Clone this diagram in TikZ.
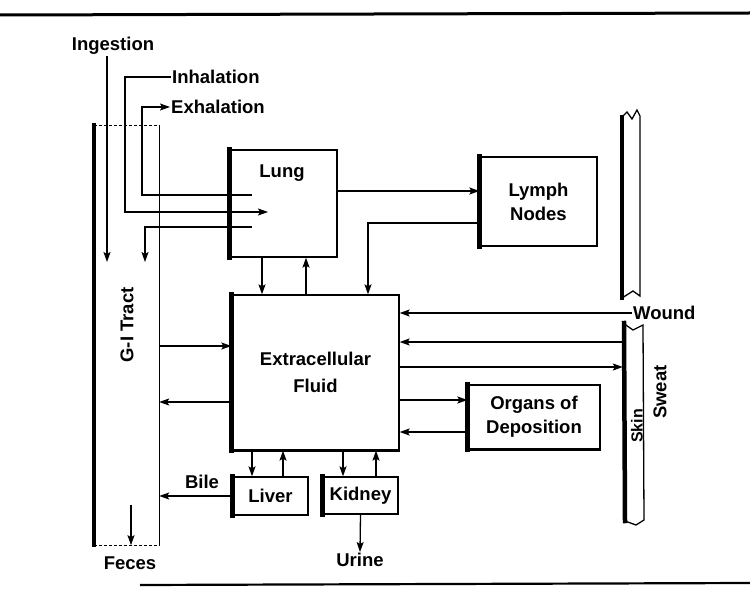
\documentclass[tikz,border=0pt]{standalone}
\usepackage{fontspec}
\setmainfont{Liberation Sans}
\usepackage{tikz}
\usetikzlibrary{arrows.meta, positioning, calc}

\tikzset{
  box/.style={draw, line width=1.3pt, inner sep=0pt, align=center},
  flow/.style={line width=1.3pt, -{Stealth[length=10pt,width=7pt,inset=2pt]}},
  wire/.style={line width=1.3pt},
  shadowedge/.style={line width=4.5pt, line cap=rect},
  lbl/.style={inner sep=1pt},
}

\begin{document}
\begin{tikzpicture}[x=1pt, y=-1pt, font=\fontsize{18.5}{24}\selectfont\bfseries]
  \useasboundingbox (0,0) rectangle (750,596);
  % page rules
  \draw[line width=3pt] (0,15) -- (750,13);
  \draw[line width=2.2pt] (140,585) -- (750,583);

  % compartments
  \node[box, minimum width=107pt, minimum height=107pt] (lung) at (283.5,203.5) {};
  \node[lbl] (lungtxt) at (282,173) {Lung};
  \node[box, minimum width=117pt, minimum height=89pt] (lymph) at (538.5,201.5) {Lymph\\Nodes};
  \node[box, minimum width=167pt, minimum height=155pt,
        font=\fontsize{18.5}{27}\selectfont\bfseries] (ecf) at (315.5,372.5) {Extracellular\\Fluid};
  \node[box, minimum width=75pt, minimum height=38pt] (liver) at (270.5,496) {Liver};
  \node[box, minimum width=75pt, minimum height=37pt] (kidney) at (360.5,495.5) {Kidney};
  \node[box, minimum width=132pt, minimum height=64pt] (organs) at (534,417) {Organs of\\Deposition};
  \foreach \n in {lung,lymph,ecf,liver,kidney,organs}
    \draw[shadowedge] (\n.north west) -- (\n.south west);
  \draw[line width=2.5pt] (ecf.south west) -- (ecf.south east);
  \draw[line width=2.5pt] (organs.south west) -- (organs.south east);

  % G-I tract
  \node[minimum width=65pt, minimum height=420pt, inner sep=0pt] (gi) at (126.5,335) {};
  \draw[shadowedge] (gi.north west) -- (gi.south west);
  \draw[wire] (gi.north east) -- (gi.south east);
  \draw[densely dashed, thin] (gi.north west) -- (gi.north east);
  \draw[densely dashed, thin] (gi.south west) -- (gi.south east);
  \node[lbl, rotate=90] (gitxt) at (127,325) {G-I Tract};

  % skin, cut open at the wound
  \node[minimum width=18pt, minimum height=184pt, inner sep=0pt] (skinup) at (631,205) {};
  \node[minimum width=21pt, minimum height=198pt, inner sep=0pt] (skinlow) at (633.5,424) {};
  \draw[wire, line join=miter] (622,117) -- (627,112) -- (632,119) -- (637,110) -- (640,116)
    -- (640,296) -- (633,291) -- (622,298);
  \draw[shadowedge] (622,117) -- (622,298);
  \draw[wire, line join=miter] (623,323) -- (633,330) -- (643,325) -- (644,520)
    -- (636,525) -- (625,521);
  \draw[shadowedge] (624,323) -- (625,521);
  \node[lbl, rotate=90, font=\fontsize{16}{16}\selectfont\bfseries] (skintxt) at (637,426) {Skin};
  \node[lbl, rotate=90] (sweat) at (660,392) {Sweat};

  % outside labels
  \node[lbl] (ingest) at (113,46) {Ingestion};
  \node[lbl, anchor=west] (inhale) at (171,77) {Inhalation};
  \node[lbl, anchor=west] (exhale) at (170,107) {Exhalation};
  \node[lbl, anchor=west] (wound) at (632,313) {Wound};
  \node[lbl] (bile) at (202,482) {Bile};
  \node[lbl] (feces) at (130,563) {Feces};
  \node[lbl] (urine) at (360,560) {Urine};

  % intake routes
  \coordinate (ingEnd) at (107,262);
  \draw[flow] (ingest.south -| ingEnd) -- (ingEnd);
  \coordinate (inhTurn) at (125,212);
  \coordinate (inhEnd) at (268,212);
  \draw[flow] (inhale.west) -| (inhTurn) -- (inhEnd);
  \coordinate (exhStart) at (252,195);
  \coordinate (exhTurn) at (142,107);
  \draw[flow] (exhStart) -| (exhTurn) -- (exhale.west);
  \coordinate (swStart) at (252,227);
  \coordinate (swEnd) at (145,262);
  \draw[flow] (swStart) -| (swEnd);
  \coordinate (fecStart) at (131,505);
  \draw[flow] (fecStart) -- (gi.south -| fecStart);

  % lung and lymph
  \draw[flow] (lung.east |- 0,191) -- (lymph.west |- 0,191);
  \draw[flow] (lymph.west |- 0,223) -| (ecf.north -| 368,0);
  \draw[flow] (lung.south -| 262,0) -- (ecf.north -| 262,0);
  \draw[flow] (ecf.north -| 306,0) -- (lung.south -| 306,0);

  % gut exchange
  \draw[flow] (gi.east |- 0,346) -- (ecf.west |- 0,346);
  \draw[flow] (ecf.west |- 0,402) -- (gi.east |- 0,402);
  \draw[flow] (liver.west) -- (gi.east |- liver.west);

  % liver and kidney
  \draw[flow] (ecf.south -| 252,0) -- (liver.north -| 252,0);
  \draw[flow] (liver.north -| 283,0) -- (ecf.south -| 283,0);
  \draw[flow] (ecf.south -| 343,0) -- (kidney.north -| 343,0);
  \draw[flow] (kidney.north -| 376,0) -- (ecf.south -| 376,0);
  \draw[flow] (kidney.south) -- (urine.north);

  % skin and deposition
  \draw[flow] (wound.west) -- (ecf.east |- wound.west);
  \draw[flow] (skinlow.west |- 0,342) -- (ecf.east |- 0,342);
  \draw[flow] (ecf.east |- 0,367) -- (skinlow.west |- 0,367);
  \draw[flow] (ecf.east |- 0,400) -- (organs.west |- 0,400);
  \draw[flow] (organs.west |- 0,432) -- (ecf.east |- 0,432);
\end{tikzpicture}
\end{document}
